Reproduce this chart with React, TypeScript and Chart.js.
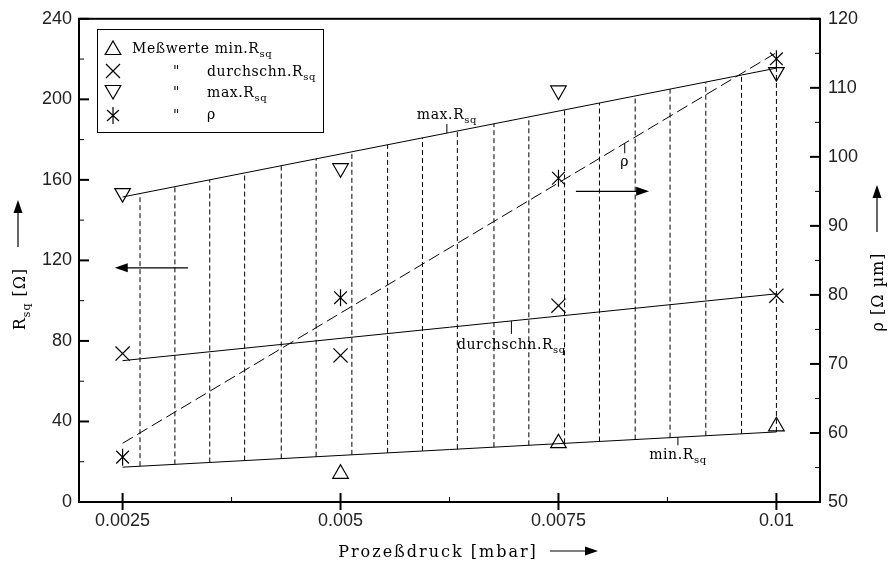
import React, { useEffect, useRef } from "react";
import { Chart, registerables } from "chart.js";
Chart.register(...registerables);

// ---- values ----
const pressure = [0.0025, 0.005, 0.0075, 0.01];
const rsqMin: (number | null)[] = [null, 14, 29.2, 37.6];
const rsqAvg = [73.7, 72.8, 97.5, 102.5];
const rsqMax = [153.4, 165.8, 204.4, 213.5];
const rhoValues = [56.5, 79.6, 96.9, 114.2];

const fitPressure = [0.0025, 0.01];
const fitMin = [17.3, 34.8];
const fitAvg = [70.2, 103.4];
const fitMax = [151.5, 215.5];
const fitRho = [58.5, 115.1];

const hatchPressure = [
  0.0027, 0.0031, 0.0035, 0.0039, 0.00432, 0.00472, 0.00513, 0.00554, 0.00594, 0.00634,
  0.00676, 0.00716, 0.00757, 0.00797, 0.00838, 0.00878, 0.00919, 0.0096, 0.01,
];

const xTickValues = [0.0025, 0.005, 0.0075, 0.01];
const xTickLabels = ["0.0025", "0.005", "0.0075", "0.01"];
const xMinorValues = [0.00375, 0.00625, 0.00875];
const leftTickValues = [0, 40, 80, 120, 160, 200, 240];
const leftMinorValues = [20, 60, 100, 140, 180, 220];
const rightTickValues = [50, 60, 70, 80, 90, 100, 110, 120];
const rightMinorValues = [55, 65, 75, 85, 95, 105, 115];

const SERIF = '"DejaVu Serif", serif';
const SANS = '"Liberation Sans", Arial, sans-serif';

function lerp(xs: number[], ys: number[], x: number) {
  const t = (x - xs[0]) / (xs[1] - xs[0]);
  return ys[0] + t * (ys[1] - ys[0]);
}

function pts(xs: number[], ys: (number | null)[]) {
  return xs.map((x, i) => ({ x, y: ys[i] })).filter((p) => p.y !== null);
}

type Part = { t: string; sub?: boolean };

function drawRich(
  ctx: CanvasRenderingContext2D,
  parts: Part[],
  x: number,
  y: number,
  align: "left" | "center",
  size: number,
  spacing: number
) {
  const base = `${size}px ${SERIF}`;
  const sub = `${Math.round(size * 0.68)}px ${SERIF}`;
  (ctx as any).letterSpacing = spacing + "px";
  ctx.textAlign = "left";
  ctx.textBaseline = "alphabetic";
  let w = 0;
  const ws: number[] = [];
  for (const p of parts) {
    ctx.font = p.sub ? sub : base;
    const m = ctx.measureText(p.t).width;
    ws.push(m);
    w += m;
  }
  let cx = align === "center" ? x - w / 2 : x;
  parts.forEach((p, i) => {
    ctx.font = p.sub ? sub : base;
    ctx.fillText(p.t, cx, p.sub ? y + size * 0.3 : y);
    cx += ws[i];
  });
  (ctx as any).letterSpacing = "0px";
  return w;
}

function arrow(ctx: CanvasRenderingContext2D, x1: number, y1: number, x2: number, y2: number) {
  const ang = Math.atan2(y2 - y1, x2 - x1);
  const hl = 13;
  const hw = 4.5;
  ctx.beginPath();
  ctx.lineWidth = 1.2;
  ctx.moveTo(x1, y1);
  ctx.lineTo(x2 - Math.cos(ang) * hl * 0.8, y2 - Math.sin(ang) * hl * 0.8);
  ctx.stroke();
  ctx.beginPath();
  ctx.moveTo(x2, y2);
  ctx.lineTo(x2 - Math.cos(ang) * hl - Math.sin(ang) * hw, y2 - Math.sin(ang) * hl + Math.cos(ang) * hw);
  ctx.lineTo(x2 - Math.cos(ang) * hl + Math.sin(ang) * hw, y2 - Math.sin(ang) * hl - Math.cos(ang) * hw);
  ctx.closePath();
  ctx.fill();
}

function triangle(ctx: CanvasRenderingContext2D, x: number, y: number, r: number, down: boolean) {
  ctx.beginPath();
  let rad = down ? Math.PI : 0;
  for (let i = 0; i < 3; i++) {
    const px = x + Math.sin(rad) * r;
    const py = y - Math.cos(rad) * r;
    if (i === 0) ctx.moveTo(px, py);
    else ctx.lineTo(px, py);
    rad += (2 * Math.PI) / 3;
  }
  ctx.closePath();
  ctx.stroke();
}

const decor = {
  id: "decor",
  afterDraw(chart: any) {
    const ctx: CanvasRenderingContext2D = chart.ctx;
    const { left, right, top, bottom } = chart.chartArea;
    const xs = chart.scales.x;
    const yl = chart.scales.y;
    const yr = chart.scales.y1;
    ctx.save();
    ctx.strokeStyle = "#000";
    ctx.fillStyle = "#000";

    // frame
    ctx.lineWidth = 2;
    ctx.strokeRect(left, top, right - left, bottom - top);

    // ticks
    const tick = (x1: number, y1: number, x2: number, y2: number, w: number) => {
      ctx.lineWidth = w;
      ctx.beginPath();
      ctx.moveTo(x1, y1);
      ctx.lineTo(x2, y2);
      ctx.stroke();
    };
    leftTickValues.forEach((v) => { const y = yl.getPixelForValue(v); tick(left, y, left + 10, y, 2); });
    leftMinorValues.forEach((v) => { const y = yl.getPixelForValue(v); tick(left, y, left + 5, y, 1); });
    rightTickValues.forEach((v) => { const y = yr.getPixelForValue(v); tick(right - 10, y, right, y, 2); });
    rightMinorValues.forEach((v) => { const y = yr.getPixelForValue(v); tick(right - 5, y, right, y, 1); });
    xTickValues.forEach((v) => { const x = xs.getPixelForValue(v); tick(x, bottom - 9, x, bottom + 8, 2); });
    xMinorValues.forEach((v) => { const x = xs.getPixelForValue(v); tick(x, bottom - 5, x, bottom, 1); });

    // axis titles
    ctx.save();
    ctx.translate(25, 299);
    ctx.rotate(-Math.PI / 2);
    drawRich(ctx, [{ t: "R" }, { t: "sq", sub: true }, { t: " [Ω]" }], 0, 0, "center", 16, 1);
    ctx.restore();
    arrow(ctx, 18, 247, 18, 200);

    ctx.save();
    ctx.translate(883, 292);
    ctx.rotate(-Math.PI / 2);
    drawRich(ctx, [{ t: "ρ [Ω µm]" }], 0, 0, "center", 16, 1);
    ctx.restore();
    arrow(ctx, 877, 232, 877, 185);

    drawRich(ctx, [{ t: "Prozeßdruck [mbar]" }], 438, 557, "center", 16, 2);
    arrow(ctx, 550, 551, 598, 551);

    // in-plot arrows
    const la = yl.getPixelForValue(116.3);
    arrow(ctx, xs.getPixelForValue(0.00325), la, xs.getPixelForValue(0.00241), la);
    const ra = yr.getPixelForValue(95);
    arrow(ctx, xs.getPixelForValue(0.0077), ra, xs.getPixelForValue(0.00854), ra);

    // line annotations
    const ann = (xv: number, lineY: number, dir: number, len: number, base: number, parts: Part[]) => {
      const x = xs.getPixelForValue(xv);
      tick(x, lineY, x, lineY + dir * len, 1);
      drawRich(ctx, parts, x, lineY + base, "center", 14, 0.6);
    };
    const xMaxL = 0.00622;
    ann(xMaxL, yl.getPixelForValue(lerp(fitPressure, fitMax, xMaxL)), -1, 9, -14, [{ t: "max.R" }, { t: "sq", sub: true }]);
    const xAvgL = 0.00696;
    ann(xAvgL, yl.getPixelForValue(lerp(fitPressure, fitAvg, xAvgL)), 1, 13, 28, [{ t: "durchschn.R" }, { t: "sq", sub: true }]);
    const xRhoL = 0.00826;
    ann(xRhoL, yr.getPixelForValue(lerp(fitPressure, fitRho, xRhoL)), 1, 10, 23, [{ t: "ρ" }]);
    const xMinL = 0.00887;
    ann(xMinL, yl.getPixelForValue(lerp(fitPressure, fitMin, xMinL)), 1, 8, 22, [{ t: "min.R" }, { t: "sq", sub: true }]);

    // legend
    ctx.fillStyle = "#fff";
    ctx.fillRect(97, 29, 226, 103);
    ctx.fillStyle = "#000";
    ctx.lineWidth = 1;
    ctx.strokeRect(97.5, 29.5, 226, 103);
    ctx.lineWidth = 1.2;
    triangle(ctx, 113, 50, 9, false);
    ctx.beginPath();
    ctx.moveTo(106, 64); ctx.lineTo(120, 78);
    ctx.moveTo(120, 64); ctx.lineTo(106, 78);
    ctx.stroke();
    triangle(ctx, 113, 90, 9, true);
    ctx.beginPath();
    ctx.moveTo(113, 107); ctx.lineTo(113, 124);
    ctx.moveTo(107, 110); ctx.lineTo(119, 121);
    ctx.moveTo(119, 110); ctx.lineTo(107, 121);
    ctx.stroke();
    drawRich(ctx, [{ t: "Meßwerte min.R" }, { t: "sq", sub: true }], 132, 53, "left", 14, 0.6);
    drawRich(ctx, [{ t: '"' }], 173, 76, "left", 14, 0);
    drawRich(ctx, [{ t: "durchschn.R" }, { t: "sq", sub: true }], 207, 76, "left", 14, 0.6);
    drawRich(ctx, [{ t: '"' }], 173, 97, "left", 14, 0);
    drawRich(ctx, [{ t: "max.R" }, { t: "sq", sub: true }], 207, 97, "left", 14, 0.6);
    drawRich(ctx, [{ t: '"' }], 173, 120, "left", 14, 0);
    drawRich(ctx, [{ t: "ρ" }], 207, 119, "left", 14, 0.6);

    ctx.restore();
  },
};

export default function App() {
  const ref = useRef<HTMLCanvasElement>(null);
  useEffect(() => {
    if (!ref.current) return;
    const lineDs = (data: any[], axis: string, dash: number[] = []) => ({
      data,
      yAxisID: axis,
      showLine: true,
      borderColor: "#000",
      borderWidth: 1,
      borderDash: dash,
      pointRadius: 0,
      fill: false,
    });
    const markerDs = (data: any[], axis: string, style: string, radius: number, rotation = 0) => ({
      data,
      yAxisID: axis,
      showLine: false,
      pointStyle: style,
      pointRadius: radius,
      pointRotation: rotation,
      pointBorderColor: "#000",
      pointBackgroundColor: "rgba(0,0,0,0)",
      pointBorderWidth: 1.2,
    });
    const hatch = hatchPressure.map((x) =>
      lineDs(
        [
          { x, y: lerp(fitPressure, fitMin, x) },
          { x, y: lerp(fitPressure, fitMax, x) },
        ],
        "y",
        [5, 3]
      )
    );
    const chart = new Chart(ref.current, {
      type: "scatter",
      data: {
        datasets: [
          ...hatch,
          lineDs(pts(fitPressure, fitMax), "y"),
          lineDs(pts(fitPressure, fitAvg), "y"),
          lineDs(pts(fitPressure, fitMin), "y"),
          lineDs(pts(fitPressure, fitRho), "y1", [12, 5]),
          markerDs(pts(pressure, rsqMin), "y", "triangle", 9),
          markerDs(pts(pressure, rsqAvg), "y", "crossRot", 10),
          markerDs(pts(pressure, rsqMax), "y", "triangle", 9, 180),
          markerDs(pts(pressure, rhoValues), "y1", "crossRot", 9),
          markerDs(pts(pressure, rhoValues), "y1", "line", 8.5, 90),
        ] as any,
      },
      options: {
        animation: false,
        responsive: false,
        devicePixelRatio: 1,
        layout: { padding: { top: 17, left: 0, right: 0, bottom: 0 } },
        plugins: { legend: { display: false }, tooltip: { enabled: false }, title: { display: false } },
        scales: {
          x: {
            type: "linear",
            position: "bottom",
            min: 0.002,
            max: 0.0105,
            grid: { display: false, drawTicks: false },
            border: { display: false },
            afterBuildTicks: (s: any) => { s.ticks = xTickValues.map((v) => ({ value: v })); },
            afterFit: (s: any) => { s.height = 61; },
            ticks: {
              autoSkip: false,
              maxRotation: 0,
              padding: 8,
              color: "#222",
              font: { family: SANS, size: 18 },
              callback: (v: any) => { const i = xTickValues.indexOf(Number(v)); return i >= 0 ? xTickLabels[i] : ""; },
            },
          },
          y: {
            type: "linear",
            position: "left",
            min: 0,
            max: 240,
            grid: { display: false, drawTicks: false },
            border: { display: false },
            afterBuildTicks: (s: any) => { s.ticks = leftTickValues.map((v) => ({ value: v })); },
            afterFit: (s: any) => { s.width = 79; },
            ticks: { padding: 7, color: "#222", font: { family: SANS, size: 18 } },
          },
          y1: {
            type: "linear",
            position: "right",
            min: 50,
            max: 120,
            grid: { display: false, drawTicks: false },
            border: { display: false },
            afterBuildTicks: (s: any) => { s.ticks = rightTickValues.map((v) => ({ value: v })); },
            afterFit: (s: any) => { s.width = 72; },
            ticks: { padding: 8, color: "#222", font: { family: SANS, size: 18 } },
          },
        },
      } as any,
      plugins: [decor],
    });
    return () => chart.destroy();
  }, []);
  return (
    <div style={{ position: "fixed", left: 0, top: 0, width: 892, height: 563, background: "#fff" }}>
      <canvas ref={ref} width={892} height={563} style={{ width: 892, height: 563, display: "block" }} />
    </div>
  );
}
